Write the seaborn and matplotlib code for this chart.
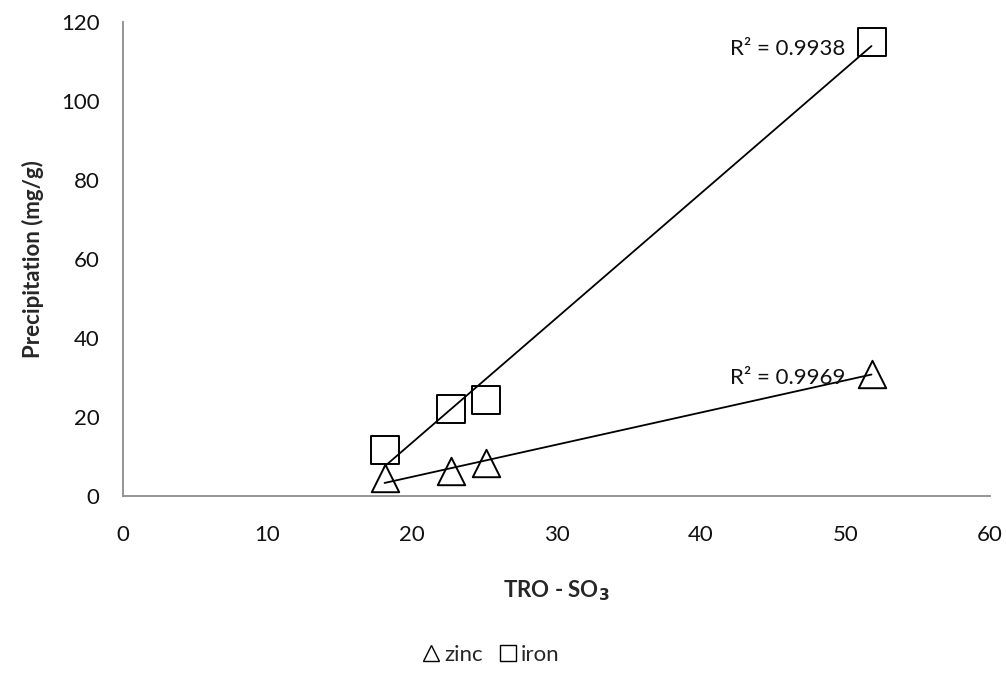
import numpy as np
import pandas as pd
import matplotlib
matplotlib.use("Agg")
import matplotlib.pyplot as plt
import seaborn as sns
from matplotlib.lines import Line2D

# Data
tro_so3 = [18.1, 22.7, 25.1, 51.8]
zinc = [4.5, 6.3, 8.3, 31.0]
iron = [11.6, 22.0, 24.4, 115.0]
r2_labels = {"zinc": "R² = 0.9969", "iron": "R² = 0.9938"}
x_ticks = [0, 10, 20, 30, 40, 50, 60]
y_ticks = [0, 20, 40, 60, 80, 100, 120]

df = pd.DataFrame({
    "x": tro_so3 * 2,
    "y": zinc + iron,
    "metal": ["zinc"] * len(zinc) + ["iron"] * len(iron),
})

sns.set_style("white")
plt.rcParams["font.family"] = ["Lato", "DejaVu Sans"]
FS = 16

fig = plt.figure(figsize=(10.06, 6.88), dpi=100)
ax = fig.add_axes([123 / 1006, 1 - 496 / 688, (990 - 123) / 1006, (496 - 22) / 688])

markers = {"zinc": "^", "iron": "s"}
for metal in ["zinc", "iron"]:
    sub = df[df.metal == metal]
    sns.scatterplot(data=sub, x="x", y="y", marker=markers[metal], s=390,
                    facecolor="white", edgecolor="black", linewidth=1.4,
                    ax=ax, legend=False, zorder=3, clip_on=False)
    # linear trendline
    k, b = np.polyfit(sub.x, sub.y, 1)
    xs = np.array([sub.x.min(), sub.x.max()])
    sns.lineplot(x=xs, y=k * xs + b, color="black", linewidth=1.3, ax=ax,
                 legend=False, zorder=4)
    ax.text(50.0, k * sub.x.max() + b - 0.8, r2_labels[metal],
            ha="right", va="center", fontsize=FS, color="#111111", zorder=5)

ax.set_xlim(0, 60)
ax.set_ylim(0, 120)
ax.set_xticks(x_ticks)
ax.set_yticks(y_ticks)
ax.tick_params(axis="both", direction="out", length=6, width=1.2, color="#8c8c8c",
               labelsize=FS, labelcolor="#111111")
ax.tick_params(axis="y", pad=11)
ax.tick_params(axis="x", pad=15)
for s in ["top", "right"]:
    ax.spines[s].set_visible(False)
for s in ["left", "bottom"]:
    ax.spines[s].set_color("#8c8c8c")
    ax.spines[s].set_linewidth(1.3)

ax.set_xlabel(r"TRO - SO$_\mathbf{3}$", fontsize=FS, fontweight="bold", labelpad=24)
ax.set_ylabel("Precipitation (mg/g)", fontsize=FS, fontweight="bold", labelpad=12)

handles = [Line2D([], [], marker="^", linestyle="none", markersize=12,
                  markerfacecolor="white", markeredgecolor="black", markeredgewidth=1.0),
           Line2D([], [], marker="s", linestyle="none", markersize=12,
                  markerfacecolor="white", markeredgecolor="black", markeredgewidth=1.0)]
fig.legend(handles, ["zinc", "iron"], loc="center", bbox_to_anchor=(0.487, 1 - 655 / 688),
           ncol=2, frameon=False, fontsize=FS, handletextpad=0.1, columnspacing=0.6,
           handlelength=1.0)

fig.savefig("out.png", dpi=100)
